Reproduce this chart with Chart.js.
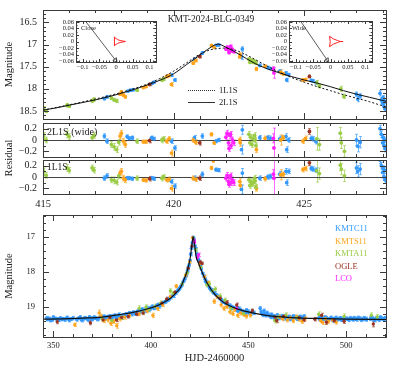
<!DOCTYPE html>
<html><head><meta charset="utf-8">
<script src="https://cdn.jsdelivr.net/npm/chart.js@4.4.1/dist/chart.umd.min.js"></script>
<style>
body{margin:0;background:#fff;}
#wrap{position:relative;width:397px;height:369px;overflow:hidden;font-family:"Liberation Serif","Times New Roman",serif;color:#222;}
.c{position:absolute;}
.t{position:absolute;white-space:nowrap;line-height:1;}
</style></head><body><div id="wrap">
<div class="c" style="left:0;top:0"><canvas id="cTop" width="397" height="122"></canvas></div>
<div class="c" style="left:0;top:119px"><canvas id="cR2" width="397" height="41"></canvas></div>
<div class="c" style="left:0;top:157px"><canvas id="cR1" width="397" height="55"></canvas></div>
<div class="c" style="left:0;top:210px"><canvas id="cBot" width="397" height="159"></canvas></div>
<div class="c" style="left:44px;top:16px"><canvas id="cIn1" width="117" height="56"></canvas></div>
<div class="c" style="left:257px;top:16px"><canvas id="cIn2" width="120" height="56"></canvas></div>

<div class="t" style="left:211px;top:15px;font-size:9.5px;transform:translateX(-50%)">KMT-2024-BLG-0349</div>
<div class="t" style="left:188px;top:90px;width:27px;border-top:1px dotted #333"></div>
<div class="t" style="left:219px;top:86px;font-size:8.5px">1L1S</div>
<div class="t" style="left:188px;top:102px;width:27px;border-top:1px solid #333"></div>
<div class="t" style="left:219px;top:98px;font-size:8.5px">2L1S</div>
<div class="t" style="left:47px;top:126.5px;font-size:10px">2L1S (wide)</div>
<div class="t" style="left:47px;top:163px;font-size:9.5px">1L1S</div>
<div class="t" style="left:9px;top:158px;font-size:10.5px;transform:translate(-50%,-50%) rotate(-90deg)">Residual</div>
<div class="t" style="left:81px;top:25px;font-size:6.5px">Close</div>
<div class="t" style="left:292px;top:25px;font-size:6.5px">Wide</div>
<div class="t" style="left:335px;top:224px;font-size:8.5px;color:#3399ff">KMTC11</div>
<div class="t" style="left:335px;top:236.5px;font-size:8.5px;color:#ffa31a">KMTS11</div>
<div class="t" style="left:335px;top:249px;font-size:8.5px;color:#99cc44">KMTA11</div>
<div class="t" style="left:335px;top:261.5px;font-size:8.5px;color:#993322">OGLE</div>
<div class="t" style="left:335px;top:274px;font-size:8.5px;color:#ff22ff">LCO</div>
</div>
<script>
// ---------- data ----------
const topXTicks = [415, 420, 425];
const topYTicks = [16.5, 17, 17.5, 18, 18.5];
const resYTicks = [0.2, 0, -0.2];
const botXTicks = [350, 400, 450, 500];
const botYTicks = [17, 18, 19];
const inXTicks = [-0.1, -0.05, 0, 0.05, 0.1];
const inYTicks = [0.06, 0.04, 0.02, 0, -0.02, -0.04, -0.06];

// model curves (top panel)
const m2Day = [415.0,415.5,416,416.5,417,417.5,418,418.5,419,419.5,420,420.5,421,421.3,421.7,422.0,422.3,422.6,423.0,423.3,423.6,424.0,424.5,425.0,425.5,426.0,426.5,427.0,427.5,428.13];
const m2Mag = [18.48,18.43,18.37,18.31,18.25,18.18,18.10,18.01,17.91,17.80,17.66,17.45,17.24,17.11,16.99,17.06,17.15,17.25,17.39,17.48,17.55,17.63,17.72,17.80,17.87,17.95,18.04,18.12,18.19,18.28];
const m1Day = [415,416,417,418,419,419.5,420,420.5,421,421.4,421.7,421.9,422.2,422.6,423.0,423.5,424.0,424.5,425,425.5,426,426.5,427,427.5,428.13];
const m1Mag = [18.48,18.36,18.23,18.08,17.89,17.76,17.60,17.41,17.22,17.12,17.09,17.08,17.10,17.18,17.30,17.46,17.61,17.74,17.85,17.95,18.04,18.13,18.21,18.29,18.41];

// top panel data [day, mag, err]
const tKMTC = [417.35,18.22,.03, 417.45,18.18,.03, 418.25,18.05,.02, 418.35,18.03,.02, 418.45,18.02,.02, 419.16,17.88,.02, 419.25,17.85,.02, 419.92,17.69,.03, 420.05,17.80,.03, 420.8,17.33,.03, 421.1,17.19,.03, 421.62,17.02,.02, 421.72,17.01,.02, 422.6,17.28,.06, 422.63,17.10,.05, 423.3,17.47,.03, 423.6,17.52,.03, 423.7,17.54,.02, 424.06,17.60,.03, 424.3,17.64,.03, 424.33,17.80,.04, 424.4,17.68,.03, 425.27,17.81,.03, 425.33,17.82,.03, 425.45,17.86,.03, 427.0,18.12,.05, 427.05,18.23,.06, 427.14,18.16,.05, 427.9,18.10,.06, 427.95,18.25,.05, 428.0,18.33,.06, 428.02,18.20,.05, 428.05,18.40,.06, 428.07,18.28,.05, 428.09,18.45,.06];
const tKMTS = [417.95,18.12,.03, 418.0,18.07,.03, 418.08,18.14,.03, 418.15,18.18,.03, 418.84,17.97,.02, 418.94,17.95,.02, 419.73,17.72,.03, 419.83,17.70,.03, 419.92,17.90,.04, 420.75,17.42,.03, 420.85,17.36,.03, 421.45,17.02,.02, 421.55,17.06,.02, 422.53,17.28,.03, 422.55,17.23,.04, 423.17,17.55,.04, 423.5,17.49,.03, 424.1,17.62,.05, 424.2,17.66,.03, 424.95,17.80,.03, 425.05,17.79,.03];
const tKMTA = [415.02,18.44,.04, 415.12,18.50,.03, 415.92,18.37,.04, 416.0,18.39,.03, 416.88,18.27,.04, 416.95,18.24,.04, 417.62,18.21,.03, 417.72,18.25,.04, 417.82,18.27,.04, 418.6,18.03,.03, 419.55,17.80,.03, 419.62,17.78,.03, 422.88,17.33,.03, 422.92,17.40,.03, 422.95,17.37,.03, 423.0,17.35,.03, 423.05,17.40,.03, 423.1,17.38,.03, 423.15,17.42,.03, 425.48,17.86,.05, 425.58,17.94,.04, 426.4,18.00,.06, 426.52,18.17,.05];
const tOGLE = [419.08,17.90,.03, 421.0,17.27,.03, 425.2,17.72,.03];
const tLCO = [422.0,17.10,.03, 422.05,17.06,.03, 422.1,17.12,.03, 422.12,17.18,.03, 422.15,17.08,.03, 422.18,17.04,.03, 422.2,17.14,.03, 422.25,17.11,.03, 422.3,17.16,.03, 423.82,17.55,.05, 423.84,17.64,.12];

// residuals 2L1S (wide)
const r2KMTC = [417.35,0.07,.04, 417.45,-0.02,.04, 418.22,0.06,.03, 418.3,0.03,.03, 418.42,0.04,.03, 419.16,0.04,.03, 419.25,0.02,.03, 419.92,-0.02,.04, 420.05,-0.14,.04, 420.8,0.04,.04, 421.1,0.07,.04, 421.62,-0.02,.03, 421.72,0.0,.03, 422.6,-0.17,.08, 422.63,0.18,.08, 423.3,0.04,.04, 423.6,0.04,.04, 423.7,0.03,.04, 424.06,0.02,.05, 424.3,0.06,.05, 424.33,-0.17,.05, 424.4,0.0,.04, 425.27,0.03,.04, 425.33,0.02,.04, 425.45,-0.03,.04, 427.0,0.0,.1, 427.05,-0.11,.1, 427.14,-0.04,.1, 427.9,0.2,.06, 427.95,0.1,.06, 428.0,-0.05,.06, 428.02,0.05,.05, 428.05,-0.1,.06, 428.07,0.0,.05, 428.09,-0.15,.06];
const r2KMTS = [417.95,0.07,.05, 418.0,0.12,.05, 418.08,-0.02,.05, 418.15,-0.08,.05, 418.84,-0.03,.03, 418.94,-0.03,.03, 419.73,-0.02,.04, 419.83,0.02,.04, 419.92,-0.23,.05, 420.75,0.0,.04, 420.85,-0.04,.04, 421.45,0.1,.03, 421.55,-0.05,.03, 422.53,0.0,.05, 422.55,-0.05,.06, 423.17,-0.17,.05, 423.5,0.03,.04, 424.1,0.0,.09, 424.2,0.04,.04, 424.95,-0.02,.04, 425.05,0.03,.04];
const r2KMTA = [415.02,0.07,.06, 415.12,0.0,.05, 415.92,0.10,.06, 416.0,0.06,.05, 416.88,0.04,.05, 416.95,0.08,.05, 417.62,-0.08,.05, 417.72,-0.12,.06, 417.82,-0.17,.05, 417.9,-0.04,.05, 418.6,-0.02,.04, 419.55,0.0,.05, 419.62,0.02,.04, 422.88,0.1,.05, 422.92,-0.05,.05, 422.95,0.05,.05, 423.0,-0.08,.05, 423.05,0.02,.05, 423.1,0.08,.05, 423.15,-0.1,.05, 423.12,0.0,.05, 425.48,0.02,.2, 425.58,-0.08,.1, 426.38,0.12,.1, 426.42,-0.05,.1, 426.54,-0.2,.1];
const r2OGLE = [419.08,-0.01,.04, 421.0,-0.05,.04, 425.2,0.15,.05];
const r2LCO = [422.0,0.05,.05, 422.05,0.12,.05, 422.1,-0.05,.05, 422.12,-0.15,.05, 422.15,0.08,.05, 422.18,0.1,.05, 422.2,-0.1,.05, 422.25,0.0,.05, 422.3,-0.05,.05, 423.82,0.03,.08, 423.84,-0.14,.35];

// residuals 1L1S
const r1KMTC = [417.35,-0.02,.04, 417.45,0.02,.04, 418.22,-0.02,.03, 418.3,-0.02,.03, 418.42,-0.03,.03, 419.16,-0.02,.03, 419.25,-0.03,.03, 419.92,-0.08,.04, 420.05,-0.16,.04, 420.8,-0.02,.04, 421.1,0.05,.04, 421.62,0.13,.03, 421.72,0.12,.03, 422.6,-0.22,.08, 422.63,0.07,.08, 423.3,-0.02,.04, 423.6,0.0,.04, 423.7,0.01,.04, 424.06,0.05,.05, 424.3,0.1,.05, 424.33,-0.1,.05, 424.4,0.1,.04, 425.27,0.15,.04, 425.33,0.14,.04, 425.45,0.12,.04, 427.0,0.16,.1, 427.05,0.1,.1, 427.14,0.14,.1, 427.9,0.3,.06, 427.95,0.2,.06, 428.0,0.08,.06, 428.02,0.15,.05, 428.05,0.0,.06, 428.07,0.12,.05, 428.09,-0.05,.06];
const r1KMTS = [417.95,0.07,.05, 418.0,0.1,.05, 418.08,-0.02,.05, 418.15,-0.05,.05, 418.84,-0.05,.03, 418.94,-0.06,.03, 419.73,-0.05,.04, 419.83,-0.04,.04, 419.92,-0.2,.05, 420.75,-0.02,.04, 420.85,-0.04,.04, 421.45,0.16,.03, 421.52,0.29,.03, 422.53,-0.08,.05, 422.55,-0.15,.06, 423.17,-0.2,.05, 423.5,-0.03,.04, 424.1,0.04,.09, 424.2,0.05,.04, 424.95,0.13,.04, 425.05,0.15,.04];
const r1KMTA = [415.02,0.10,.06, 415.12,0.03,.05, 415.92,0.16,.06, 416.0,0.12,.05, 416.88,0.16,.05, 416.95,0.12,.05, 417.62,-0.05,.05, 417.72,-0.06,.06, 417.82,-0.09,.05, 417.9,0.02,.05, 418.6,-0.02,.04, 419.55,-0.02,.05, 419.62,0.0,.04, 422.88,-0.05,.05, 422.92,-0.15,.05, 422.95,-0.08,.05, 423.0,-0.12,.05, 423.05,-0.1,.05, 423.1,-0.02,.05, 423.15,-0.18,.05, 423.12,-0.07,.05, 425.48,0.11,.2, 425.58,0.06,.1, 426.38,0.21,.1, 426.42,0.14,.1, 426.54,0.02,.1];
const r1OGLE = [419.08,-0.03,.04, 421.0,-0.02,.04, 425.2,0.25,.05];
const r1LCO = [422.0,-0.02,.05, 422.05,0.03,.05, 422.1,-0.08,.05, 422.12,-0.13,.05, 422.15,0.0,.05, 422.18,0.02,.05, 422.2,-0.1,.05, 422.25,-0.05,.05, 422.3,-0.1,.05, 423.82,0.05,.08, 423.84,-0.02,.35];

// bottom panel model and data
const bDay = [344.7,355,365,375,385,392,398,403,407,410,413,415,417,418.5,420,421,421.6,422.3,423.2,424.5,426,428,431,435,440,445,452,460,470,485,500,520.5];
const bMag = [19.36,19.35,19.33,19.30,19.22,19.15,19.07,18.98,18.87,18.76,18.60,18.47,18.22,18.00,17.66,17.25,17.00,17.20,17.57,17.77,17.98,18.24,18.52,18.78,18.97,19.08,19.18,19.26,19.31,19.34,19.36,19.37];
const bKMTC = [347,19.37,.04, 348,19.34,.04, 349.5,19.38,.04, 351,19.34,.04, 352,19.36,.04, 353.5,19.33,.04, 355,19.35,.04, 356,19.38,.04, 357.5,19.34,.04, 359,19.36,.04,
 363,19.33,.04, 364.5,19.39,.05, 366,19.32,.04, 367,19.35,.04, 368.5,19.30,.04, 370,19.37,.04, 371.5,19.33,.04, 372.5,19.36,.05,
 375,19.33,.04, 376,19.28,.04, 377.5,19.35,.04, 379,19.27,.04, 380,19.32,.04, 381.5,19.25,.04, 383,19.30,.04, 384,19.26,.04, 385.5,19.24,.04, 387,19.21,.04, 388,19.26,.04, 389.5,19.19,.04, 391,19.16,.04, 392,19.21,.04, 393.5,19.13,.04, 395,19.11,.04, 396,19.15,.04, 397.5,19.07,.04, 399,19.09,.04, 400,19.03,.04, 401.5,19.05,.04, 403,18.97,.04, 404,19.01,.04, 405.5,18.92,.04, 407,18.87,.04, 408,18.83,.03, 409.5,18.78,.03, 411,18.70,.03, 412,18.65,.03, 413.5,18.56,.03, 414.5,18.50,.03, 415.5,18.41,.03, 416.5,18.29,.03, 417.4,18.20,.03, 418.3,18.04,.03, 419.2,17.86,.03, 420,17.68,.03, 420.8,17.33,.03, 421.6,17.02,.03, 422.6,17.27,.03, 423.5,17.50,.03, 424.3,17.65,.03, 425.3,17.82,.03, 426.5,18.05,.03, 427.2,18.14,.04, 428,18.28,.04, 429,18.36,.04, 430,18.46,.04, 431,18.53,.04, 432,18.60,.04, 433.5,18.67,.04, 434.5,18.72,.04, 436,18.80,.04, 437,18.87,.04, 438.5,18.91,.04, 440,18.96,.04, 441,19.00,.04, 442.5,19.03,.04, 444,19.10,.05, 445,19.05,.04, 446.5,19.13,.05, 448,19.16,.04, 449,19.10,.04, 450.5,19.19,.05, 452,19.14,.05,
 456,19.05,.05, 457,19.20,.05, 458,19.12,.05, 459,19.25,.05, 460,19.22,.04, 461.5,19.30,.05, 462.5,19.26,.04, 464,19.28,.05, 465.5,19.33,.05, 467,19.27,.05, 468,19.30,.05, 469.5,19.35,.05, 471,19.29,.05, 472,19.32,.05, 474,19.30,.05, 475.5,19.34,.05, 477,19.31,.05, 478.5,19.28,.05,
 486,19.33,.05, 487,19.30,.05, 488.5,19.36,.05, 490,19.33,.05, 491,19.38,.05, 492.5,19.32,.05, 494,19.35,.05, 495.5,19.37,.05, 497,19.33,.05, 498,19.36,.05, 500,19.34,.05, 501.5,19.38,.05, 503,19.35,.05, 504,19.33,.05, 505.5,19.37,.05, 507,19.34,.05, 508.5,19.36,.05, 510,19.35,.05,
 513,19.30,.05, 514,19.36,.05, 515.5,19.33,.05, 517,19.38,.05, 518,19.34,.05, 519.5,19.37,.05];
const bKMTC2 = [346.5,19.33,.05, 348.5,19.39,.05, 350,19.31,.05, 352.8,19.38,.05, 354.2,19.36,.05, 356.8,19.32,.05, 358.2,19.39,.05, 360,19.33,.05,
 362,19.37,.05, 363.8,19.31,.05, 365.3,19.36,.05, 367.8,19.38,.05, 369.2,19.34,.05, 370.8,19.31,.05, 373,19.35,.05,
 374.2,19.30,.05, 375.8,19.36,.05, 377,19.31,.05, 378.2,19.29,.05, 379.8,19.35,.05, 380.8,19.27,.05, 382.2,19.31,.05, 383.6,19.23,.05, 384.8,19.29,.05, 386.2,19.27,.05, 387.6,19.24,.05, 388.8,19.19,.05, 390.2,19.22,.05, 391.6,19.19,.05, 392.8,19.15,.05, 394.2,19.16,.05, 395.6,19.08,.05, 396.8,19.12,.05, 398.2,19.04,.05, 399.6,19.06,.05, 400.8,19.00,.05, 402.2,19.02,.05, 403.6,18.95,.05, 404.8,18.96,.05, 406.2,18.90,.05, 407.6,18.84,.05, 408.8,18.80,.05, 410.2,18.73,.05, 411.6,18.69,.05, 412.8,18.60,.05, 414,18.52,.05, 415,18.45,.05, 416,18.36,.05, 417,18.24,.05, 418,18.10,.05, 418.8,17.96,.05, 419.6,17.80,.05, 420.4,17.50,.05, 421.2,17.18,.05, 422,17.08,.05, 422.9,17.36,.05, 423.9,17.58,.05, 424.8,17.72,.05, 425.8,17.92,.05, 427.8,18.22,.05, 428.5,18.32,.05, 429.5,18.38,.05, 430.5,18.50,.05, 431.5,18.55,.05, 432.8,18.63,.05, 434,18.70,.05, 435.2,18.76,.05, 436.5,18.84,.05, 437.8,18.88,.05, 439.2,18.94,.05, 440.5,18.98,.05, 441.8,19.03,.05, 443.2,19.06,.05, 444.6,19.12,.05, 445.8,19.09,.05, 447.2,19.15,.05, 448.5,19.19,.05, 449.8,19.14,.05, 451.2,19.20,.05, 452.8,19.18,.05,
 456.5,19.15,.05, 457.5,19.24,.05, 458.5,19.22,.05, 459.5,19.18,.05, 460.8,19.27,.05, 461.8,19.23,.05, 463,19.31,.05, 464.8,19.25,.05, 466.2,19.30,.05, 467.5,19.33,.05, 468.8,19.27,.05, 470.2,19.31,.05, 471.5,19.36,.05, 473,19.28,.05, 474.8,19.35,.05, 476.2,19.29,.05, 477.8,19.35,.05,
 486.5,19.37,.05, 487.8,19.34,.05, 489.2,19.31,.05, 490.5,19.36,.05, 491.8,19.34,.05, 493.2,19.39,.05, 494.8,19.32,.05, 496.2,19.35,.05, 497.6,19.38,.05, 499,19.33,.05, 500.8,19.36,.05, 502.2,19.33,.05, 503.6,19.37,.05, 504.8,19.35,.05, 506.2,19.32,.05, 507.8,19.38,.05, 509.2,19.33,.05, 510.5,19.37,.05,
 512.5,19.35,.05, 513.5,19.33,.05, 514.8,19.39,.05, 516.2,19.35,.05, 517.5,19.31,.05, 519,19.35,.05, 520,19.33,.05];
const bKMTS = [361,19.52,.05, 373.5,19.18,.08, 374.5,19.28,.06, 376,19.40,.06, 378,19.38,.06, 379.5,19.48,.06, 381,19.42,.06, 382.5,19.55,.07, 384,19.35,.06, 386.5,19.30,.06, 389,19.25,.06, 394,19.20,.06, 398,19.12,.06, 401,19.25,.06, 403.5,19.05,.06, 406,18.95,.05, 410,18.72,.05, 413,18.42,.05, 417.8,18.10,.04, 419.9,17.72,.04, 421.4,17.03,.03, 424.9,17.78,.04, 427.5,18.15,.05, 429.5,18.32,.05, 432.5,18.85,.06, 434,18.72,.05, 436,18.95,.06, 437.5,19.05,.06, 439,19.00,.06, 440.5,19.15,.06, 442,19.20,.06, 443,19.08,.06, 444.5,19.25,.06, 446,19.18,.06, 447.5,19.22,.06, 449,19.27,.06, 451,19.24,.06, 466,19.30,.06, 467.5,19.35,.06, 469,19.28,.06, 470,19.38,.06, 471.5,19.32,.06, 473,19.40,.06, 474.5,19.30,.06, 476,19.36,.06, 477.5,19.42,.06, 479,19.33,.06, 487,19.40,.06, 488,19.45,.06, 489.5,19.35,.06, 491,19.42,.06, 493,19.38,.06, 495,19.44,.06];
const bKMTA = [375,19.35,.07, 380,19.40,.07, 385,19.30,.07, 394,19.05,.07, 396,19.15,.07, 397.5,19.02,.07, 399,19.08,.07, 402,19.00,.07, 405,18.90,.06, 410,18.55,.06, 411.5,18.62,.06, 416,18.35,.05, 418.6,18.03,.04, 423,17.38,.04, 425.5,17.88,.05, 428.7,18.38,.06, 430,18.35,.06, 431.5,18.55,.06, 433,18.50,.06, 435.5,18.70,.06, 438,18.82,.06, 441,19.05,.07, 447.5,19.20,.07, 463.5,19.40,.07, 465,19.30,.07, 469,19.25,.07, 475,19.32,.07, 486,19.22,.07, 499,19.28,.07, 513,19.25,.07, 516,19.30,.07];
const bOGLE = [352,19.43,.06, 369,19.46,.06, 375.5,19.38,.05, 379,19.31,.05, 382.4,19.38,.05, 385,19.31,.05, 388.4,19.28,.05, 392.7,19.21,.05, 396,19.18,.05, 405.6,18.90,.05, 408.1,18.78,.05, 412.4,18.59,.04, 419.1,17.90,.03, 421,17.27,.03, 425.2,17.72,.03, 426.1,17.76,.03, 435.5,18.76,.05, 439,18.88,.05, 444,18.95,.05, 452,19.12,.05, 463.6,19.30,.05, 464.5,19.40,.06, 468,19.28,.05, 476,19.32,.05, 478.5,19.38,.05, 484,19.36,.05, 487.5,19.25,.06, 490,19.45,.06, 494,19.40,.06, 499,19.42,.06, 514,19.50,.08];
const bLCO = [422.0,17.10,.03, 422.2,17.14,.03, 422.3,17.16,.03, 423.8,17.60,.05, 424.4,17.52,.05, 444,19.05,.05];

// inset geometry (source trajectories and caustics)
const closeTrajX = [-0.092, -0.002];
const closeTrajY = [0.063, -0.057];
const closeCauX = [-0.006, 0.004, 0.012, 0.028, 0.012, 0.004, -0.006, -0.004, -0.006];
const closeCauY = [0.014, 0.006, 0.003, 0.0, -0.003, -0.006, -0.013, 0.0, 0.014];
const wideTrajX = [-0.085, -0.010];
const wideTrajY = [0.060, -0.057];
const wideCauX = [-0.003, 0.008, 0.020, 0.028, 0.036, 0.028, 0.020, 0.008, -0.003, -0.001, -0.003];
const wideCauY = [0.016, 0.008, 0.003, 0.0, 0.0, 0.0, -0.003, -0.008, -0.016, 0.0, 0.016];

// ---------- helpers ----------
const FONT = '"Liberation Serif","Times New Roman",serif';
const COL = {kmtc:'#3399ff', kmts:'#ffa31a', kmta:'#99cc44', ogle:'#993322', lco:'#ff22ff'};
function pts(a){ const o=[]; for(let i=0;i<a.length;i+=3) o.push({x:a[i],y:a[i+1],e:a[i+2]}); return o; }
function line(xs,ys){ return xs.map((x,i)=>({x:x,y:ys[i]})); }
function fmt(v){ const s=String(parseFloat(Math.abs(v).toFixed(4))); return (v<-1e-9?'\u2212':'')+s; }
function steps(min,max,step){ const o=[]; const k0=Math.ceil(min/step-1e-6), k1=Math.floor(max/step+1e-6); for(let k=k0;k<=k1;k++) o.push(k*step); return o; }
function isMult(v,s){ const r=v/s; return Math.abs(r-Math.round(r))<1e-6; }

const errPlugin = {
  id:'errbars',
  beforeDatasetsDraw(chart){
    const {ctx, chartArea:a, scales} = chart; const x=scales.x, y=scales.y;
    ctx.save(); ctx.beginPath(); ctx.rect(a.left,a.top,a.width,a.height); ctx.clip();
    chart.data.datasets.forEach(ds=>{
      if(!ds.errColor) return;
      ctx.strokeStyle = ds.errColor; ctx.lineWidth = 1; ctx.beginPath();
      const c = ds.cap||1.5;
      ds.data.forEach(p=>{
        const px = Math.round(x.getPixelForValue(p.x))+0.5;
        const y1 = y.getPixelForValue(p.y-p.e), y2 = y.getPixelForValue(p.y+p.e);
        ctx.moveTo(px,y1); ctx.lineTo(px,y2);
        ctx.moveTo(px-c,y1); ctx.lineTo(px+c,y1); ctx.moveTo(px-c,y2); ctx.lineTo(px+c,y2);
      });
      ctx.stroke();
    });
    ctx.restore();
  }
};
function framePlugin(f){
  return {
    id:'frame',
    beforeDatasetsDraw(chart){
      if(!f.zero) return;
      const {ctx, chartArea:a, scales} = chart;
      const py = Math.round(scales.y.getPixelForValue(0))+0.5;
      ctx.save(); ctx.strokeStyle='#444'; ctx.lineWidth=1; ctx.beginPath(); ctx.moveTo(a.left,py); ctx.lineTo(a.right,py); ctx.stroke(); ctx.restore();
    },
    afterDraw(chart){
      const {ctx, chartArea:a, scales} = chart; const x=scales.x, y=scales.y;
      ctx.save(); ctx.strokeStyle='#3a3a3a'; ctx.lineWidth=1; ctx.beginPath();
      steps(Math.min(x.min,x.max),Math.max(x.min,x.max),f.xMinor).forEach(v=>{
        const L = isMult(v,f.xMajor)?f.maj:f.min; const px=Math.round(x.getPixelForValue(v))+0.5;
        ctx.moveTo(px,a.bottom); ctx.lineTo(px,a.bottom-L); ctx.moveTo(px,a.top); ctx.lineTo(px,a.top+L);
      });
      steps(Math.min(y.min,y.max),Math.max(y.min,y.max),f.yMinor).forEach(v=>{
        const L = isMult(v,f.yMajor)?f.maj:f.min; const py=Math.round(y.getPixelForValue(v))+0.5;
        ctx.moveTo(a.left,py); ctx.lineTo(a.left+L,py); ctx.moveTo(a.right,py); ctx.lineTo(a.right-L,py);
      });
      ctx.stroke();
      ctx.strokeRect(Math.round(a.left)+0.5, Math.round(a.top)+0.5, Math.round(a.right)-Math.round(a.left), Math.round(a.bottom)-Math.round(a.top));
      ctx.restore();
    }
  };
}
function axis(o){
  return {
    type:'linear', min:o.min, max:o.max, reverse:!!o.reverse, display:o.display!==false,
    border:{display:false}, grid:{display:false, drawTicks:false},
    afterBuildTicks: s=>{ s.ticks = (o.ticks||[]).map(v=>({value:v})); },
    afterFit: s=>{ if(o.width!=null) s.width=o.width; if(o.height!=null) s.height=o.height;
      s.paddingTop=0; s.paddingBottom=0; s.paddingLeft=0; s.paddingRight=0; },
    ticks:{ autoSkip:false, maxRotation:0, padding:o.pad||3, color:'#222', font:{family:FONT,size:o.size||10}, callback:v=>fmt(v) },
    title: o.title ? {display:true, text:o.title, color:'#222', font:{family:FONT,size:o.tsize||10.5}, padding:o.tpad||{top:3,bottom:0}} : {display:false}
  };
}
function dset(arr,color,order,r){
  return {data:pts(arr), backgroundColor:color, borderColor:color, pointRadius:r||1.9, pointBorderWidth:0, pointHoverRadius:0, errColor:color+'aa', order:order, showLine:false};
}
function curve(xs,ys,dash,w){
  return {data:line(xs,ys), showLine:true, borderColor:'#111', borderWidth:w||1, borderDash:dash||[], pointRadius:0, fill:false, cubicInterpolationMode:'monotone', order:0};
}
function mk(id, datasets, x, y, padding, frame){
  return new Chart(document.getElementById(id), {
    type:'scatter', data:{datasets},
    options:{ animation:false, responsive:false, devicePixelRatio:1, events:[],
      layout:{padding}, plugins:{legend:{display:false}, tooltip:{enabled:false}},
      scales:{x, y} },
    plugins:[errPlugin, framePlugin(frame)]
  });
}
const fTop = {xMinor:1,xMajor:5,yMinor:0.1,yMajor:0.5,maj:6,min:3};
const fRes = {xMinor:1,xMajor:5,yMinor:0.1,yMajor:0.2,maj:6,min:3,zero:true};
const fBot = {xMinor:10,xMajor:50,yMinor:0.2,yMajor:1,maj:6,min:3};
const fIn = {xMinor:0.01,xMajor:0.05,yMinor:0.01,yMajor:0.02,maj:3,min:1.5};

// ---------- charts ----------
mk('cTop', [
  curve(m1Day,m1Mag,[2,2],1), curve(m2Day,m2Mag,[],1),
  dset(tLCO,COL.lco,1,1.9), dset(tOGLE,COL.ogle,2,1.9), dset(tKMTA,COL.kmta,3,1.9), dset(tKMTS,COL.kmts,4,1.9), dset(tKMTC,COL.kmtc,5,1.9)
], axis({min:415,max:428.13,display:false}), axis({min:16.22,max:18.68,reverse:true,ticks:topYTicks,width:43,pad:6,size:10,title:'Magnitude'}),
 {top:10,right:11,bottom:3,left:0}, fTop);

mk('cR2', [
  dset(r2LCO,COL.lco,1,1.9), dset(r2OGLE,COL.ogle,2,1.9), dset(r2KMTA,COL.kmta,3,1.9), dset(r2KMTS,COL.kmts,4,1.9), dset(r2KMTC,COL.kmtc,5,1.9)
], axis({min:415,max:428.13,display:false}), axis({min:-0.3,max:0.3,ticks:resYTicks,width:43,pad:6,size:10}),
 {top:4,right:11,bottom:3,left:0}, fRes);

mk('cR1', [
  dset(r1LCO,COL.lco,1,1.9), dset(r1OGLE,COL.ogle,2,1.9), dset(r1KMTA,COL.kmta,3,1.9), dset(r1KMTS,COL.kmts,4,1.9), dset(r1KMTC,COL.kmtc,5,1.9)
], axis({min:415,max:428.13,ticks:topXTicks,height:18,pad:4,size:10.5}), axis({min:-0.3,max:0.3,ticks:resYTicks,width:43,pad:6,size:10}),
 {top:3,right:11,bottom:0,left:0}, fRes);

mk('cBot', [
  curve(bDay,bMag,[],1.2),
  dset(bLCO,COL.lco,1,1.7), dset(bOGLE,COL.ogle,2,1.7), dset(bKMTA,COL.kmta,3,1.7), dset(bKMTS,COL.kmts,4,1.7), dset(bKMTC.concat(bKMTC2),COL.kmtc,5,1.8)
], axis({min:344.7,max:520.5,ticks:botXTicks,height:32,pad:4,size:8.5,title:'HJD-2460000',tsize:10.5,tpad:{top:0,bottom:4}}),
 axis({min:16.38,max:19.87,reverse:true,ticks:botYTicks,width:43,pad:8,size:8.5,title:'Magnitude'}),
 {top:5,right:11,bottom:0,left:0}, fBot);

function insetSets(tx,ty,cx,cy){
  const tr = {data:line(tx,ty), showLine:true, borderColor:'#333', borderWidth:0.8, pointRadius:0, tension:0, order:1};
  const arrow = {data:line([tx[1]],[ty[1]]), showLine:false, pointStyle:'triangle', rotation:143, pointRadius:2.6, borderColor:'#333', backgroundColor:'rgba(0,0,0,0)', pointBorderWidth:0.8, order:0};
  const cau = {data:line(cx,cy), showLine:true, borderColor:'#ff2020', borderWidth:1, pointRadius:0, tension:0, order:0};
  return [tr, arrow, cau];
}
mk('cIn1', insetSets(closeTrajX,closeTrajY,closeCauX,closeCauY),
  axis({min:-0.12,max:0.12,ticks:inXTicks,height:10,pad:1.5,size:6.5}),
  axis({min:-0.063,max:0.063,ticks:inYTicks,width:32,pad:2,size:6.5}),
  {top:5,right:4,bottom:0,left:0}, fIn);
mk('cIn2', insetSets(wideTrajX,wideTrajY,wideCauX,wideCauY),
  axis({min:-0.12,max:0.12,ticks:inXTicks,height:10,pad:1.5,size:6.5}),
  axis({min:-0.063,max:0.063,ticks:inYTicks,width:32,pad:2,size:6.5}),
  {top:5,right:4,bottom:0,left:0}, fIn);
</script>
</body></html>
